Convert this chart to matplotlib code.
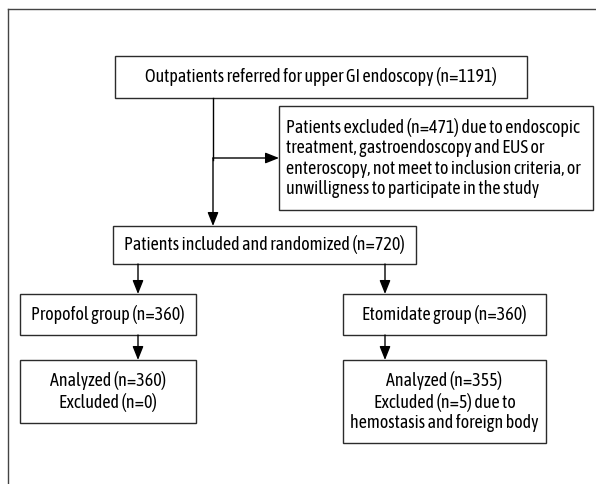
import matplotlib
matplotlib.use('Agg')
import matplotlib.pyplot as plt
from matplotlib.patches import Rectangle

plt.rcParams['font.family'] = ['Asap Condensed', 'DejaVu Sans']
plt.rcParams['font.stretch'] = 'condensed'

# box labels
top_text = 'Outpatients referred for upper GI endoscopy (n=1191)'
excl_lines = ['Patients excluded (n=471) due to endoscopic',
              'treatment, gastroendoscopy and EUS or',
              'enteroscopy, not meet to inclusion criteria, or',
              'unwilligness to participate in the study']
rand_text = 'Patients included and randomized (n=720)'
group_texts = ['Propofol group (n=360)', 'Etomidate group (n=360)']
analyzed_texts = ['Analyzed (n=360)\nExcluded (n=0)',
                  'Analyzed (n=355)\nExcluded (n=5) due to\nhemostasis and foreign body']

W, H = 596, 484
fig = plt.figure(figsize=(W / 100, H / 100), dpi=100)
ax = fig.add_axes([0, 0, 1, 1])
ax.set_xlim(0, W); ax.set_ylim(H, 0); ax.axis('off')

EC = '#2b2b2b'; LW = 1.0; FS = 13; LS = 1.15

def box(x0, y0, x1, y1):
    ax.add_patch(Rectangle((x0, y0), x1 - x0, y1 - y0, fill=False, ec=EC, lw=LW))

def arrow(x0, y0, x1, y1):
    ax.annotate('', xy=(x1, y1), xytext=(x0, y0),
                arrowprops=dict(arrowstyle='-|>,head_length=0.75,head_width=0.3', color='black',
                                lw=LW, mutation_scale=11, shrinkA=0, shrinkB=0))

# outer frame (top and left only)
ax.plot([8, W], [9, 9], color='#444444', lw=1.0)
ax.plot([8, 8], [9, H], color='#444444', lw=1.0)

# top box
box(115, 56, 527, 98)
ax.text(321, 77, top_text, ha='center', va='center', fontsize=FS)

# exclusion box
box(279, 106, 593, 210)
ax.text(286, 158, '\n'.join(excl_lines), ha='left', va='center', fontsize=FS, linespacing=LS)

# main flow
ax.plot([213, 213], [98, 160], color='black', lw=LW)
arrow(213, 158, 279, 158)
arrow(213, 158, 213, 226)

# randomized box
box(113, 226, 416, 264)
ax.text(264.5, 245, rand_text, ha='center', va='center', fontsize=FS)

# groups
gx = [(20, 196), (343, 546)]
ax_x = [138, 385]
for (x0, x1), txt, axx in zip(gx, group_texts, ax_x):
    arrow(axx, 264, axx, 294)
    box(x0, 294, x1, 335)
    ax.text((x0 + x1) / 2, 315, txt, ha='center', va='center', fontsize=FS)
    arrow(axx, 335, axx, 360)

# analyzed boxes
box(20, 360, 196, 423)
ax.text(108, 391.5, analyzed_texts[0], ha='center', va='center', fontsize=FS, linespacing=LS)
box(343, 360, 546, 443)
ax.text(444.5, 401.5, analyzed_texts[1], ha='center', va='center', fontsize=FS, linespacing=LS)

fig.savefig('out.png', dpi=100, facecolor='white')
